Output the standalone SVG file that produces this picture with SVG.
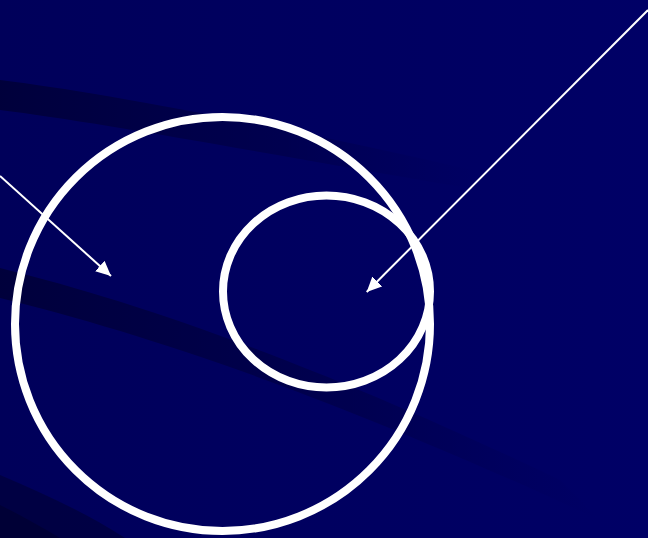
<svg xmlns="http://www.w3.org/2000/svg" width="648" height="538" viewBox="0 0 648 538">
  <defs>
    <linearGradient id="bg" x1="0" y1="0" x2="1" y2="0">
      <stop offset="0" stop-color="#00005a"/>
      <stop offset="1" stop-color="#000066"/>
    </linearGradient>
    <linearGradient id="fade1" x1="0" y1="0" x2="480" y2="0" gradientUnits="userSpaceOnUse">
      <stop offset="0" stop-color="#000038" stop-opacity="0.9"/>
      <stop offset="0.6" stop-color="#000040" stop-opacity="0.5"/>
      <stop offset="1" stop-color="#000050" stop-opacity="0"/>
    </linearGradient>
    <linearGradient id="fade2" x1="0" y1="0" x2="600" y2="0" gradientUnits="userSpaceOnUse">
      <stop offset="0" stop-color="#000038" stop-opacity="0.9"/>
      <stop offset="0.6" stop-color="#000040" stop-opacity="0.5"/>
      <stop offset="1" stop-color="#000050" stop-opacity="0"/>
    </linearGradient>
    <marker id="arrow" markerUnits="userSpaceOnUse" markerWidth="16" markerHeight="16" refX="15" refY="7" orient="auto">
      <path d="M0,0 L15,7 L0,14 Z" fill="#ffffff"/>
    </marker>
    <style>
      .ring { fill: none; stroke: #ffffff; stroke-width: 8; }
      .conn { stroke: #ffffff; stroke-width: 2; fill: none; marker-end: url(#arrow); }
    </style>
  </defs>

  <rect x="0" y="0" width="648" height="538" fill="url(#bg)"/>
  <path d="M0,80 C100,92 300,130 480,172 L480,190 C300,160 100,122 0,110 Z" fill="url(#fade1)"/>
  <path d="M0,268 C150,305 330,370 560,480 L600,520 C330,395 150,335 0,298 Z" fill="url(#fade2)"/>
  <path d="M0,475 C40,492 85,512 125,538 L0,538 Z" fill="#000040" opacity="0.85"/>
  <path d="M0,505 C20,515 40,526 60,538 L0,538 Z" fill="#000030" opacity="0.7"/>

  <g id="outer-circle">
    <ellipse class="ring" cx="222.5" cy="324" rx="207.5" ry="207"/>
  </g>
  <g id="inner-circle">
    <ellipse class="ring" cx="326.5" cy="291.5" rx="103.5" ry="96"/>
  </g>

  <g id="connectors">
    <line class="conn" x1="0" y1="176" x2="111" y2="276"/>
    <line class="conn" x1="648" y1="10" x2="366.7" y2="292"/>
  </g>
</svg>
